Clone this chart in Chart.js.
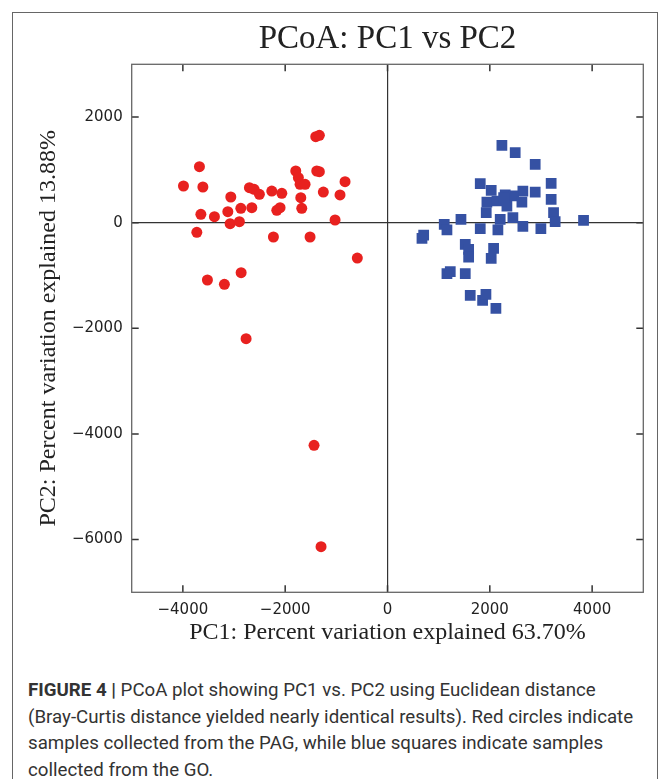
<!DOCTYPE html>
<html>
<head>
<meta charset="utf-8">
<script src="https://cdn.jsdelivr.net/npm/chart.js@4/dist/chart.umd.min.js"></script>
<style>
  body { margin: 0; background: #fff; }
  #frame {
    position: absolute; left: 12px; top: 12px;
    width: 644px; height: 800px;
    border: 1px solid #666;
  }
  #pcoa { position: absolute; left: 0; top: 0; }
  #caption {
    position: absolute; left: 28px; top: 677px; width: 630px;
    font-family: "Liberation Sans Narrow", "Roboto", "Liberation Sans", sans-serif;
    font-size: 18.7px; line-height: 26.7px; color: #333;
  }
  #caption b { font-weight: bold; }
</style>
</head>
<body>
<div id="frame"></div>
<canvas id="pcoa" width="670" height="660"></canvas>
<div id="caption"><b>FIGURE 4 |</b> PCoA plot showing PC1 vs. PC2 using Euclidean distance<br>(Bray-Curtis distance yielded nearly identical results). Red circles indicate<br>samples collected from the PAG, while blue squares indicate samples<br>collected from the GO.</div>
<script>
'use strict';

// PAG samples (red circles)
var pagX = [-1402,-1332,-3676,-1793,-1383,-1332,-3988,-3609,-1742,-1709,-1611,-830,
            -2699,-2607,-2504,-2262,-2066,-1254,-928,-3063,-1695,-3648,-3383,-3121,
            -2867,-2652,-2164,-2100,-1676,-3076,-2895,-1025,-3727,-2230,-1514,-590,
            -3520,-3188,-2861,-2764,-1436,-1299];
var pagY = [1629,1655,1061,979,979,966,695,676,852,727,727,777,
            663,633,538,600,557,581,525,487,473,159,114,208,
            273,284,235,284,273,-19,19,51,-182,-271,-271,-669,
            -1085,-1167,-947,-2197,-4216,-6136];

// GO samples (blue squares)
var goX = [2236,2496,2887,1813,3199,2027,2301,2646,2887,2465,1943,2139,2334,2627,
           3199,1930,3246,3277,3832,1109,1436,2203,2451,1162,1813,2158,2646,2998,
           707,674,1520,1586,1586,2074,2027,1162,1227,1520,1617,1859,1924,2119,2270];
var goY = [1466,1326,1106,739,746,614,525,600,581,506,392,411,316,392,
           443,189,189,19,45,-30,64,64,95,-138,-114,-138,-68,-114,
           -233,-295,-409,-504,-650,-485,-674,-966,-928,-966,-1375,-1470,-1356,-1621,473];

var xTicks = [-4000, -2000, 0, 2000, 4000];
var yTicks = [-6000, -4000, -2000, 0, 2000];

function toPoints(xs, ys){
    return xs.map(function(x, i){ return {x: x, y: ys[i]}; });
}

// frame box + inward tick marks on all four sides
const framePlugin = {
    id: 'framePlugin',
    afterDatasetsDraw(chart){
        const ctx = chart.ctx;
        const a = chart.chartArea;
        const xs = chart.scales.x, ys = chart.scales.y;
        ctx.save();
        ctx.strokeStyle = '#333';
        ctx.lineWidth = 1.5;
        ctx.beginPath();
        xTicks.forEach(function(v){
            const px = xs.getPixelForValue(v);
            ctx.moveTo(px, a.bottom); ctx.lineTo(px, a.bottom - 7);
            ctx.moveTo(px, a.top); ctx.lineTo(px, a.top + 7);
        });
        yTicks.forEach(function(v){
            const py = ys.getPixelForValue(v);
            ctx.moveTo(a.left, py); ctx.lineTo(a.left + 7, py);
            ctx.moveTo(a.right, py); ctx.lineTo(a.right - 7, py);
        });
        ctx.stroke();
        ctx.strokeStyle = '#666';
        ctx.lineWidth = 1.3;
        ctx.strokeRect(a.left, a.top, a.right - a.left, a.bottom - a.top);
        ctx.restore();
    }
};

const zeroLine = function(c){ return c.tick && c.tick.value === 0 ? '#333' : 'rgba(0,0,0,0)'; };

const config = {
    type: 'scatter',
    data: {
        datasets: [{
            label: 'PAG',
            data: toPoints(pagX, pagY),
            backgroundColor: '#e8211f',
            borderWidth: 0,
            pointStyle: 'circle',
            pointRadius: 5.5,
            pointHoverRadius: 5.5
        }, {
            label: 'GO',
            data: toPoints(goX, goY),
            backgroundColor: '#3551a3',
            borderWidth: 0,
            pointStyle: 'rect',
            pointRadius: 7.6,
            pointHoverRadius: 7.6
        }]
    },
    options: {
        responsive: false,
        animation: false,
        devicePixelRatio: 1,
        layout: { padding: { left: 0, right: 26.7, top: 0, bottom: 0 } },
        plugins: {
            legend: { display: false },
            tooltip: { enabled: false },
            title: {
                display: true,
                fullSize: false,
                text: 'PCoA: PC1 vs PC2',
                color: '#222',
                font: { family: 'Liberation Serif', size: 33, weight: 'normal', lineHeight: 1.2 },
                padding: { top: 19.2, bottom: 5.5 }
            }
        },
        scales: {
            x: {
                type: 'linear',
                min: -5000, max: 5000,
                afterBuildTicks: function(s){ s.ticks = xTicks.map(function(v){ return {value: v}; }); },
                afterFit: function(s){ s.height = 67.7; },
                grid: { color: zeroLine, lineWidth: 1.2, drawTicks: false },
                border: { display: false },
                ticks: {
                    color: '#222', padding: 9,
                    font: { family: 'DejaVu Sans', size: 15 },
                    callback: function(v){ return String(v).replace('-', '\u2212'); }
                },
                title: {
                    display: true,
                    text: 'PC1: Percent variation explained 63.70%',
                    color: '#222',
                    font: { family: 'Liberation Serif', size: 24, lineHeight: 1.2 },
                    padding: { top: 0, bottom: 12.9 }
                }
            },
            y: {
                type: 'linear',
                min: -7000, max: 3000,
                afterBuildTicks: function(s){ s.ticks = yTicks.map(function(v){ return {value: v}; }); },
                afterFit: function(s){ s.width = 131.7; },
                grid: { color: zeroLine, lineWidth: 1.2, drawTicks: false },
                border: { display: false },
                ticks: {
                    color: '#222', padding: 9,
                    font: { family: 'DejaVu Sans', size: 15 },
                    callback: function(v){ return String(v).replace('-', '\u2212'); }
                },
                title: {
                    display: true,
                    text: 'PC2: Percent variation explained 13.88%',
                    color: '#222',
                    font: { family: 'Liberation Serif', size: 24, lineHeight: 1.2 },
                    padding: { top: 34.3, bottom: 0 }
                }
            }
        }
    },
    plugins: [framePlugin]
};

const ctx = document.querySelector('#pcoa').getContext('2d');
let chart = new Chart(ctx, config);
</script>
</body>
</html>
